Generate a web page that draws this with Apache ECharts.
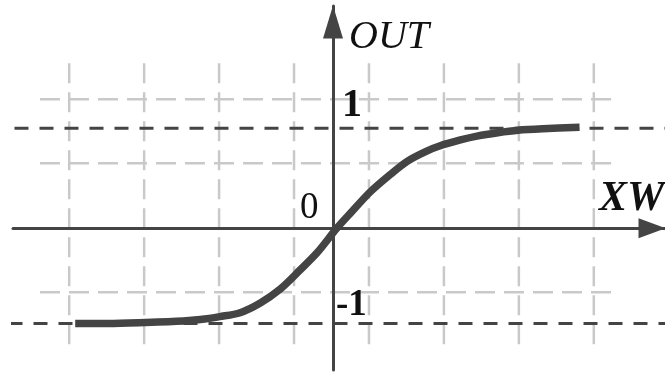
<!DOCTYPE html>
<html>
<head>
<meta charset="utf-8">
<script src="https://cdn.jsdelivr.net/npm/echarts@6/dist/echarts.min.js"></script>
<style>
    html, body { margin: 0; padding: 0; background: #fff; }
    #chart { width: 665px; height: 374px; }
</style>
</head>
<body>
<div id="chart"></div>
<script>
// curve (x in grid units, y in asymptote units)
var curveX = [-3.44, -3.0, -2.5, -2.0, -1.77, -1.51, -1.24, -0.97, -0.71, -0.44, -0.21, 0.05, 0.25, 0.49, 0.75, 0.99, 1.25, 1.43, 1.7, 1.92, 2.2, 2.47, 2.8, 3.29];
var curveY = [-0.98, -0.98, -0.97, -0.955, -0.94, -0.91, -0.87, -0.77, -0.63, -0.43, -0.25, 0.0, 0.17, 0.37, 0.545, 0.69, 0.795, 0.85, 0.91, 0.95, 0.985, 1.01, 1.025, 1.04];
// light grid lines
var gridXs = [-3.52, -2.52, -1.52, -0.52, 0.48, 1.48, 2.48, 3.48];
var gridYs = [1.33, 0.67, -0.66];
// dark dashed asymptotes
var limitYs = [1.03, -0.98];
// labels
var tickLabels = ['1', '0', '-1'];

var dark = '#444444';
var gray = '#c9c9c9';
var serif = 'Liberation Serif';

var myChart = echarts.init(document.getElementById('chart'));

var series = [];
gridXs.forEach(function (x) {
    series.push({
        type: 'line', silent: true, symbol: 'none', z: 1,
        data: [[x, 1.70], [x, -1.21]],
        lineStyle: { color: gray, width: 2.5, type: [20, 9] }
    });
});
gridYs.forEach(function (y) {
    series.push({
        type: 'line', silent: true, symbol: 'none', z: 1,
        data: [[-3.91, y], [3.77, y]],
        lineStyle: { color: gray, width: 2.5, type: [20, 9] }
    });
});
limitYs.forEach(function (y, i) {
    series.push({
        type: 'line', silent: true, symbol: 'none', z: 2,
        data: [[i === 0 ? -4.25 : -4.33, y], [4.43, y]],
        lineStyle: { color: dark, width: 3, type: [14, 11] }
    });
});
series.push({
    type: 'line', silent: true, symbol: 'none', z: 5,
    smooth: 0.3,
    data: curveX.map(function (x, i) { return [x, curveY[i]]; }),
    lineStyle: { color: dark, width: 7.5, cap: 'butt' }
});

function label(text, x, y, size, style, weight) {
    return {
        type: 'text', x: x, y: y, z: 10,
        style: {
            text: text, fill: '#111', verticalAlign: 'middle',
            fontFamily: serif, fontSize: size, fontStyle: style, fontWeight: weight
        }
    };
}

myChart.setOption({
    animation: false,
    grid: { left: 13, right: 0, top: 6, bottom: 4 },
    xAxis: {
        type: 'value', min: -4.27, max: 4.43, z: 3,
        axisLine: {
            show: true, onZero: true,
            symbol: ['none', 'triangle'], symbolSize: [20, 27], symbolOffset: [0, -13],
            lineStyle: { color: dark, width: 3 }
        },
        axisTick: { show: false },
        axisLabel: { show: false },
        splitLine: { show: false }
    },
    yAxis: {
        type: 'value', min: -1.46, max: 2.29, z: 3,
        axisLine: {
            show: true, onZero: true,
            symbol: ['none', 'triangle'], symbolSize: [20, 33], symbolOffset: [0, -16],
            lineStyle: { color: dark, width: 3 }
        },
        axisTick: { show: false },
        axisLabel: { show: false },
        splitLine: { show: false }
    },
    graphic: [
        label('OUT', 349, 37, 40, 'italic', 'normal'),
        label('XW', 599, 199, 42, 'italic', 'bold'),
        label(tickLabels[0], 342, 106, 40, 'normal', 'bold'),
        label(tickLabels[1], 300, 208, 37, 'normal', 'normal'),
        label(tickLabels[2], 336, 305, 37, 'normal', 'bold')
    ],
    series: series
});
</script>
</body>
</html>
